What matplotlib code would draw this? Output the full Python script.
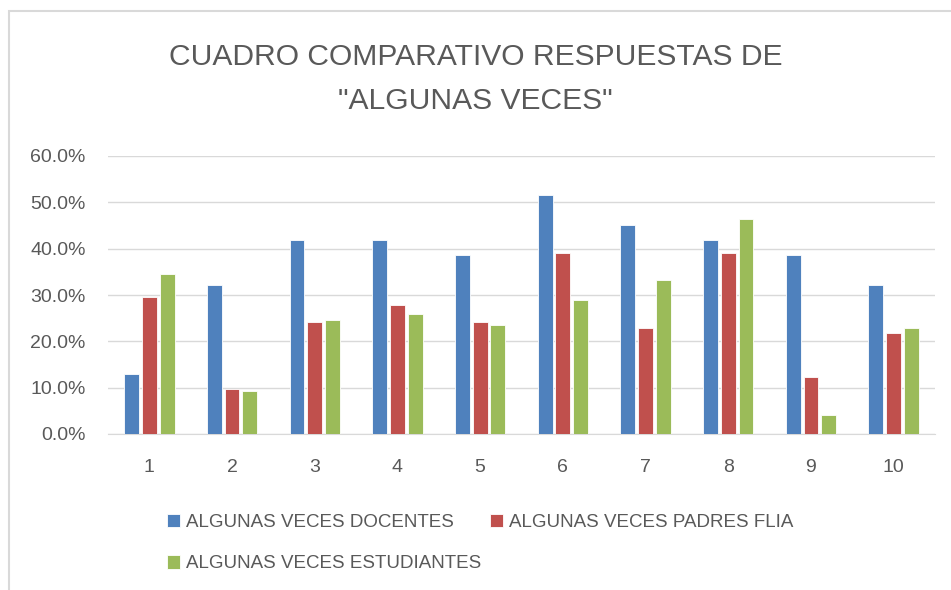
import numpy as np
import matplotlib.pyplot as plt
from matplotlib.patches import Rectangle

categories = ['1', '2', '3', '4', '5', '6', '7', '8', '9', '10']
docentes = [12.9, 32.2, 41.9, 41.9, 38.7, 51.6, 45.2, 41.9, 38.7, 32.2]
padres = [29.5, 9.8, 24.2, 27.9, 24.2, 39.1, 22.8, 39.1, 12.3, 21.7]
estudiantes = [34.6, 9.2, 24.5, 25.8, 23.6, 28.9, 33.3, 46.3, 4.2, 22.8]

labels = ['ALGUNAS VECES DOCENTES', 'ALGUNAS VECES PADRES FLIA',
          'ALGUNAS VECES ESTUDIANTES']
colors = ['#4f81bd', '#c0504d', '#9bbb59']
gray = '#595959'

plt.rcParams['font.family'] = ['Liberation Sans', 'DejaVu Sans']

fig = plt.figure(figsize=(9.51, 5.9), dpi=100)
ax = fig.add_axes([108 / 951, 1 - 434 / 590, 827 / 951, 278 / 590])

x = np.arange(len(categories))
off = 0.215
w = 0.18
bars = []
for i, (vals, c) in enumerate(zip([docentes, padres, estudiantes], colors)):
    b = ax.bar(x + (i - 1) * off, vals, w, color=c, edgecolor='white',
               linewidth=0.6, zorder=3)
    bars.append(b)

ax.set_xlim(-0.5, len(categories) - 0.5)
ax.set_ylim(0, 60)
ax.set_yticks(np.arange(0, 61, 10))
ax.set_yticklabels(['%.1f%%' % v for v in np.arange(0, 61, 10)])
ax.set_xticks(x)
ax.set_xticklabels(categories)
ax.grid(axis='y', color='#d9d9d9', linewidth=1, zorder=0)
for s in ['top', 'right', 'left']:
    ax.spines[s].set_visible(False)
ax.spines['bottom'].set_color('#d9d9d9')
ax.tick_params(axis='both', length=0, labelsize=14, colors=gray)
ax.tick_params(axis='y', pad=16)
ax.tick_params(axis='x', pad=18)

fig.text(0.5, 1 - 57 / 590, 'CUADRO COMPARATIVO RESPUESTAS DE', ha='center',
         va='center', fontsize=21.6, color=gray)
fig.text(0.5, 1 - 101 / 590, '"ALGUNAS VECES"', ha='center', va='center',
         fontsize=21.6, color=gray)

handles = [bars[0], bars[2], bars[1]]
hl = [labels[0], labels[2], labels[1]]
fig.legend(handles, hl, ncol=2, loc='upper left',
           bbox_to_anchor=(150 / 951, 1 - 497 / 590), frameon=False,
           fontsize=13.5, labelcolor=gray, handlelength=0.7, handleheight=0.7,
           handletextpad=0.3, labelspacing=1.3, columnspacing=0.5)

fig.patches.append(Rectangle((9 / 951, -0.05), 1, 1.05 - 11 / 590,
                             transform=fig.transFigure, fill=False,
                             edgecolor='#d9d9d9', linewidth=1.5))

fig.savefig('out.png', dpi=100)
